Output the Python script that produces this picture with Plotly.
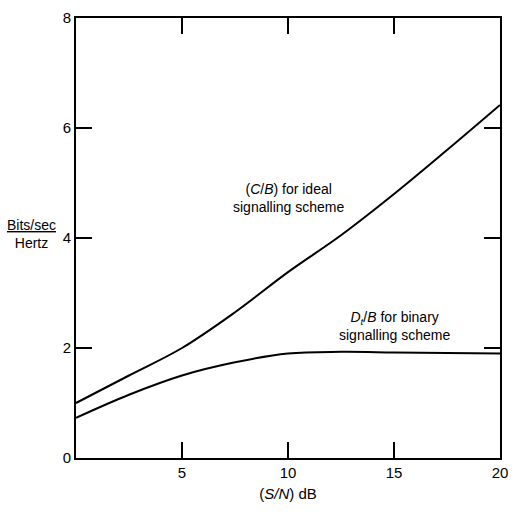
import plotly.graph_objects as go

snr_db = [0, 2.5, 5, 7.5, 10, 12.5, 15, 17.5, 20]
ideal_cb = [1.0, 1.5, 2.0, 2.65, 3.38, 4.05, 4.8, 5.6, 6.42]
binary_db = [0.73, 1.15, 1.5, 1.74, 1.9, 1.93, 1.92, 1.91, 1.9]

x_ticks = [5, 10, 15, 20]
y_ticks = [0, 2, 4, 6, 8]

font_family = "Liberation Sans, Arial, sans-serif"

fig = go.Figure()
fig.add_trace(go.Scatter(x=snr_db, y=ideal_cb, mode="lines", line=dict(color="black", width=2, shape="spline"),
                         name="C/B ideal", showlegend=False))
fig.add_trace(go.Scatter(x=snr_db, y=binary_db, mode="lines", line=dict(color="black", width=2, shape="spline"),
                         name="Dt/B binary", showlegend=False))

fig.update_xaxes(range=[0, 20], tickvals=x_ticks, ticks="inside", ticklen=16, tickwidth=1.5, tickcolor="black",
                 showline=True, linecolor="black", linewidth=2, mirror="allticks", showgrid=False, zeroline=False,
                 ticklabeloverflow="allow",
                 tickfont=dict(size=15, color="black", family=font_family),
                 title=dict(text="(<i>S/N</i>) dB", font=dict(size=15, color="black", family=font_family), standoff=8))
fig.update_yaxes(range=[0, 8], tickvals=y_ticks, ticks="inside", ticklen=16, tickwidth=1.5, tickcolor="black",
                 showline=True, linecolor="black", linewidth=2, mirror="allticks", showgrid=False, zeroline=False,
                 tickfont=dict(size=15, color="black", family=font_family))

fig.add_annotation(x=0, y=0.51, xref="paper", yref="paper", showarrow=False, xanchor="right", xshift=-18,
                   text="<u>Bits/sec</u><br>Hertz", font=dict(size=14, color="black", family=font_family))
fig.add_annotation(x=10, y=4.72, showarrow=False, align="center",
                   text="(<i>C</i>/<i>B</i>) for ideal<br>signalling scheme",
                   font=dict(size=14, color="black", family=font_family))
fig.add_annotation(x=15.0, y=2.4, showarrow=False, align="center",
                   text="<i>D<sub>t</sub></i>/<i>B</i> for binary<br>signalling scheme",
                   font=dict(size=14, color="black", family=font_family))

fig.update_layout(width=517, height=514, margin=dict(l=76, r=9, t=14, b=56),
                  plot_bgcolor="white", paper_bgcolor="white",
                  font=dict(family=font_family, color="black"))
fig.write_html("out.html", config={"displayModeBar": False},
               post_script="document.body.style.margin='0';document.body.style.overflow='hidden';")
